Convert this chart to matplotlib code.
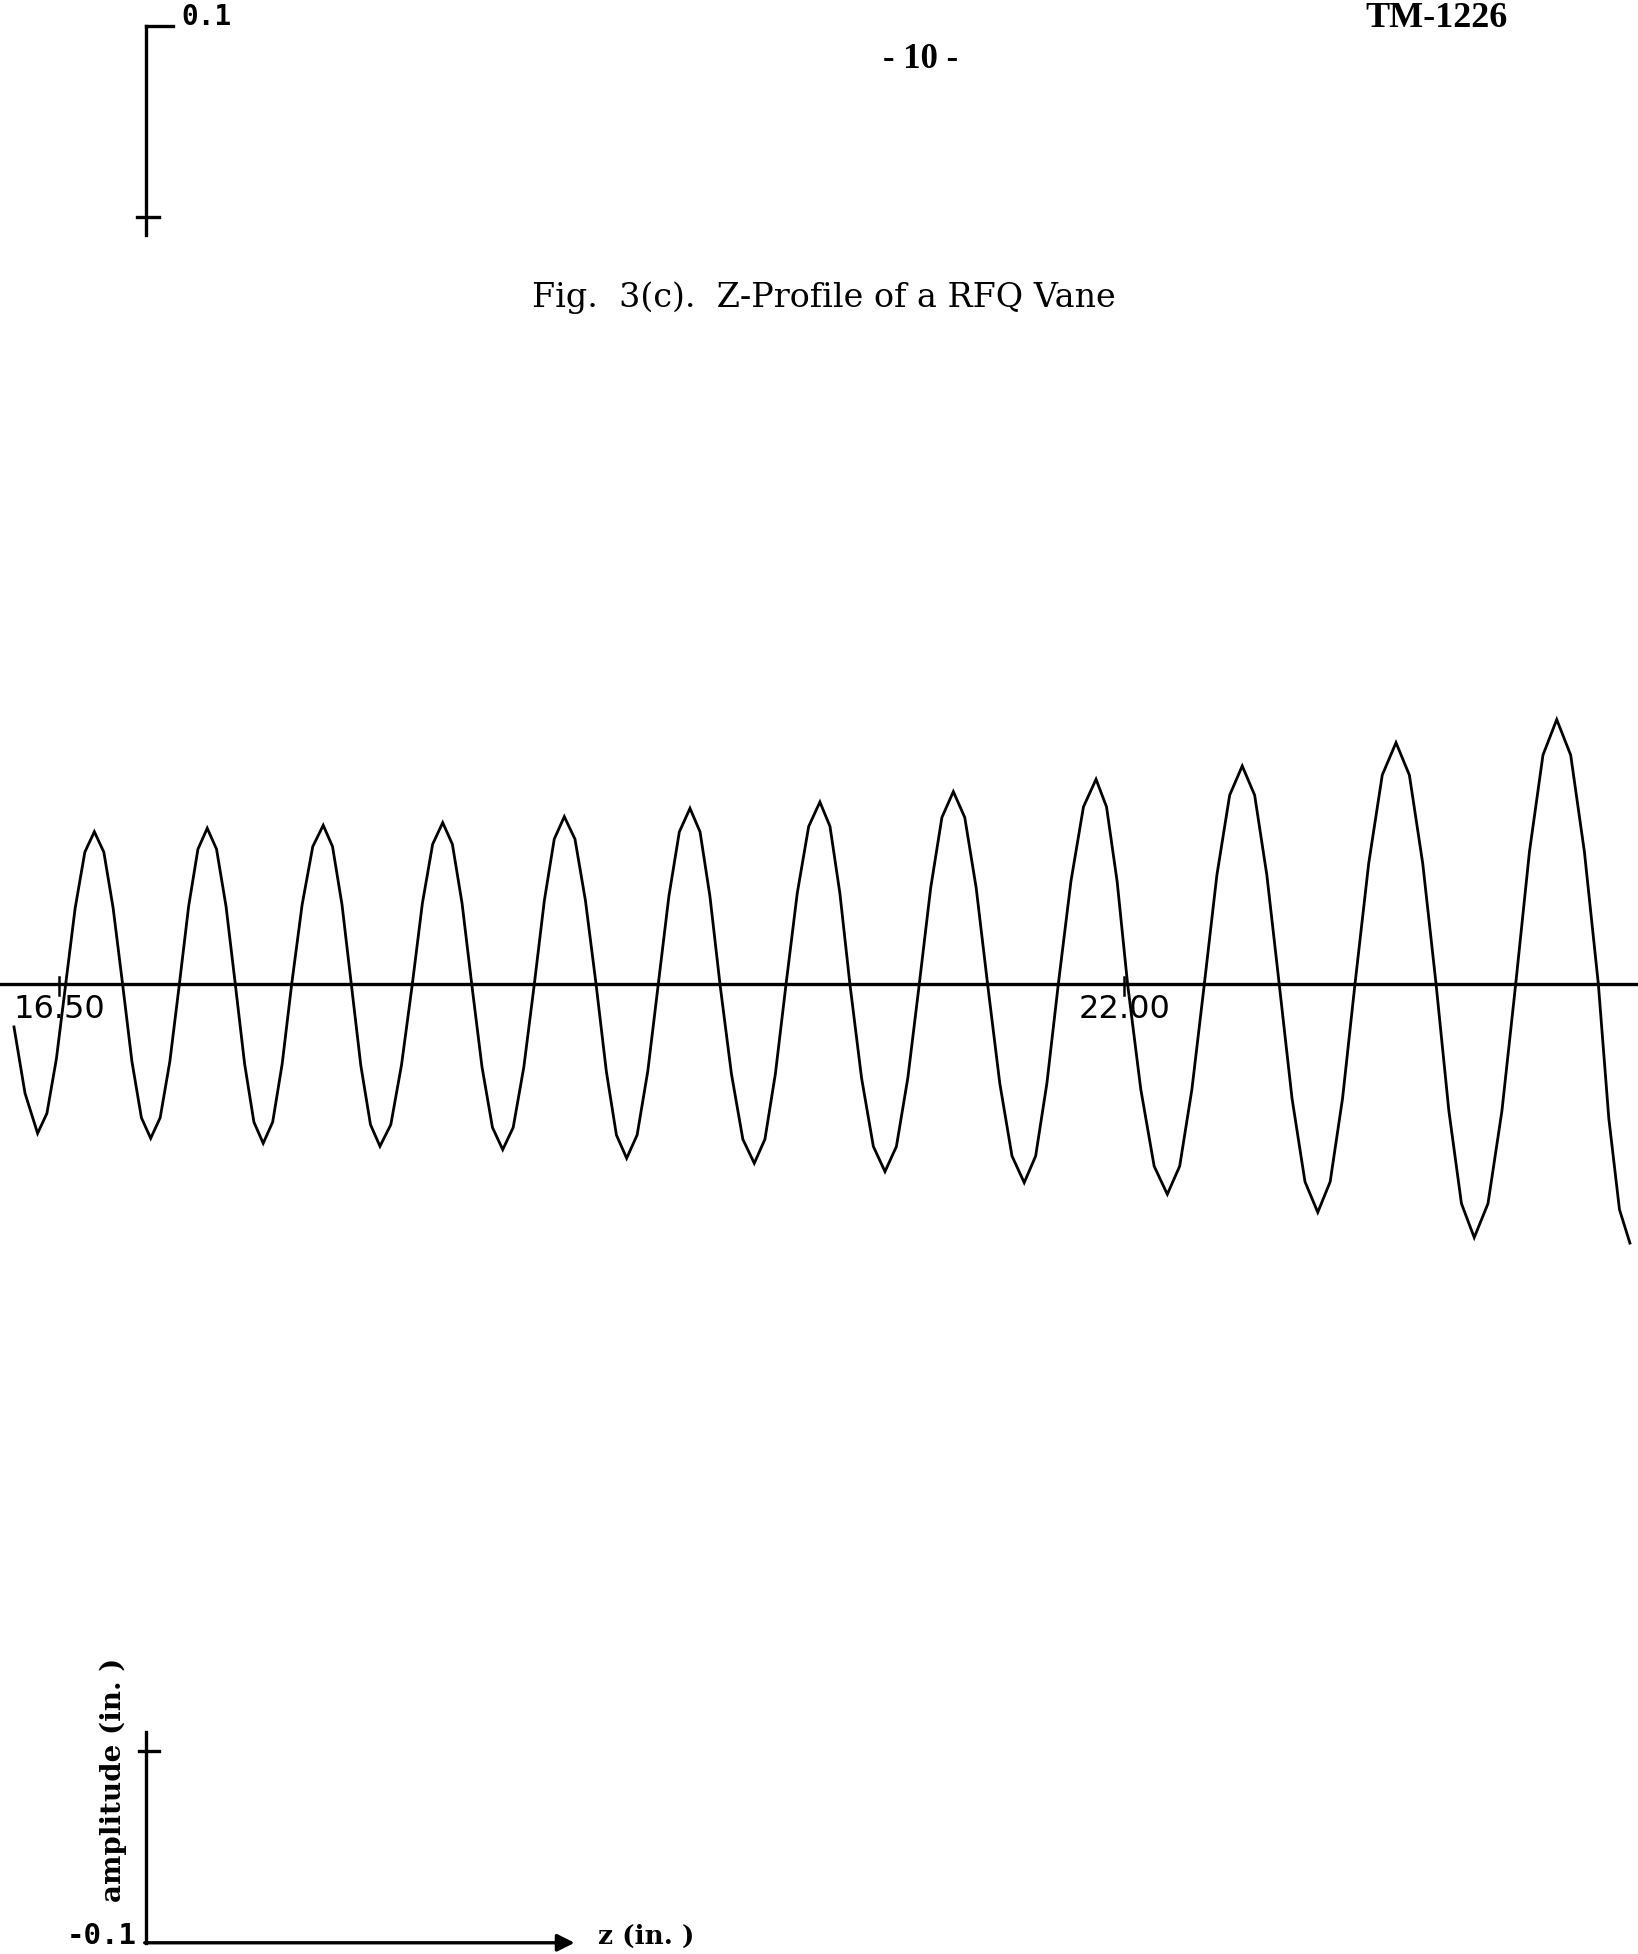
import matplotlib
matplotlib.use('Agg')
import matplotlib.pyplot as plt

# vane profile, z (in.) vs amplitude (in.)
z_in = [
    16.266, 16.323, 16.388,
    16.436, 16.485, 16.533, 16.582, 16.632, 16.681,
    16.730, 16.778, 16.827, 16.875, 16.924, 16.972,
    17.021, 17.071, 17.120, 17.168, 17.216, 17.264,
    17.312, 17.361, 17.409, 17.457, 17.505, 17.553,
    17.602, 17.651, 17.700, 17.754, 17.809, 17.863,
    17.911, 17.960, 18.008, 18.057, 18.107, 18.156,
    18.212, 18.267, 18.323, 18.375, 18.428, 18.480,
    18.530, 18.580, 18.630, 18.683, 18.737, 18.790,
    18.844, 18.899, 18.953, 19.005, 19.056, 19.108,
    19.163, 19.217, 19.272, 19.325, 19.377, 19.430,
    19.484, 19.539, 19.593, 19.648, 19.702, 19.757,
    19.809, 19.860, 19.912, 19.971, 20.030, 20.089,
    20.144, 20.198, 20.253, 20.311, 20.370, 20.428,
    20.480, 20.531, 20.583, 20.643, 20.704, 20.764,
    20.823, 20.882, 20.941, 21.000, 21.058, 21.117,
    21.176, 21.235, 21.294, 21.357, 21.420, 21.483,
    21.542, 21.600, 21.659, 21.724, 21.789, 21.854,
    21.908, 21.963, 22.017, 22.085, 22.154, 22.222,
    22.286, 22.349, 22.413, 22.478, 22.544, 22.609,
    22.673, 22.736, 22.800, 22.866, 22.933, 22.999,
    23.063, 23.127, 23.191, 23.262, 23.332, 23.403,
    23.472, 23.541, 23.610, 23.676, 23.741, 23.807,
    23.878, 23.950, 24.021, 24.092, 24.162, 24.233,
    24.305, 24.376, 24.448, 24.502, 24.557, 24.611,
]
amp_in = [
    -0.00445, -0.01137, -0.01555,
    -0.01347, -0.00778, 0.0, 0.00796, 0.01379, 0.01592,
    0.01379, 0.00796, 0.0, -0.00804, -0.01392, -0.01607,
    -0.01392, -0.00804, 0.0, 0.00814, 0.01410, 0.01628,
    0.01410, 0.00814, 0.0, -0.00830, -0.01437, -0.01659,
    -0.01437, -0.00830, 0.0, 0.00830, 0.01437, 0.01659,
    0.01437, 0.00830, 0.0, -0.00845, -0.01464, -0.01690,
    -0.01464, -0.00845, 0.0, 0.00844, 0.01461, 0.01687,
    0.01461, 0.00844, 0.0, -0.00863, -0.01494, -0.01725,
    -0.01494, -0.00863, 0.0, 0.00875, 0.01515, 0.01749,
    0.01515, 0.00875, 0.0, -0.00908, -0.01572, -0.01815,
    -0.01572, -0.00908, 0.0, 0.00918, 0.01590, 0.01836,
    0.01590, 0.00918, 0.0, -0.00934, -0.01617, -0.01867,
    -0.01617, -0.00934, 0.0, 0.00951, 0.01647, 0.01902,
    0.01647, 0.00951, 0.0, -0.00977, -0.01692, -0.01954,
    -0.01692, -0.00977, 0.0, 0.01005, 0.01741, 0.02010,
    0.01741, 0.01005, 0.0, -0.01035, -0.01792, -0.02069,
    -0.01792, -0.01035, 0.0, 0.01070, 0.01852, 0.02139,
    0.01852, 0.01070, 0.0, -0.01096, -0.01897, -0.02191,
    -0.01897, -0.01096, 0.0, 0.01139, 0.01973, 0.02278,
    0.01973, 0.01139, 0.0, -0.01190, -0.02060, -0.02379,
    -0.02060, -0.01190, 0.0, 0.01261, 0.02183, 0.02521,
    0.02183, 0.01261, 0.0, -0.01321, -0.02288, -0.02642,
    -0.02288, -0.01321, 0.0, 0.01381, 0.02392, 0.02762,
    0.02392, 0.01381, 0.0, -0.01400, -0.02350, -0.02700,
]

z_ticks = [16.5, 22.0]
z_tick_labels = ["16.50", "22.00"]
amp_scale = [0.1, 0.08]   # scale bar end and tick

fig = plt.figure(figsize=(16.38, 19.54), dpi=100)
ax = fig.add_axes([0, 0, 1, 1])
ax.set_xlim(16.1938, 24.6527)
ax.set_ylim(-0.10117, 0.10269)
ax.axis('off')

# profile and z axis
ax.plot(z_in, amp_in, color='black', lw=2.0, solid_joinstyle='miter')
ax.axhline(0.0, color='black', lw=2.4)
for zt, lab in zip(z_ticks, z_tick_labels):
    ax.plot([zt, zt], [0.0008, -0.0011], color='black', lw=1.8)
    ax.text(zt, -0.0010, lab, ha='center', va='top', fontsize=23,
            family='DejaVu Sans', color='black')

# amplitude scale marks, top
xb = 16.946
ax.plot([xb, xb], [0.0782, amp_scale[0]], color='black', lw=2.4)
ax.plot([xb, 17.086], [amp_scale[0], amp_scale[0]], color='black', lw=2.4)
ax.plot([16.900, 17.016], [amp_scale[1], amp_scale[1]], color='black', lw=2.4)
ax.text(17.130, 0.10095, "0.1", ha='left', va='center', fontsize=20,
        family='DejaVu Sans Mono', fontweight='bold')

# amplitude scale marks, bottom, with z arrow
ax.plot([xb, xb], [-0.0780, -amp_scale[0]], color='black', lw=2.4)
ax.plot([16.912, 17.016], [-amp_scale[1], -amp_scale[1]], color='black', lw=2.4)
ax.annotate('', xy=(19.161, -amp_scale[0]), xytext=(xb - 0.005, -amp_scale[0]),
            arrowprops=dict(arrowstyle='-|>', lw=2.4, color='black',
                            mutation_scale=26, shrinkA=0, shrinkB=0))
ax.text(16.902, -0.0993, "-0.1", ha='right', va='center', fontsize=21,
        family='DejaVu Sans Mono', fontweight='bold')
ax.text(19.283, -0.0993, "z (in. )", ha='left', va='center', fontsize=19,
        family='DejaVu Serif', fontweight='bold')
ax.text(16.778, -0.0830, "amplitude (in. )", ha='center', va='center',
        rotation=90, fontsize=20, family='DejaVu Serif', fontweight='bold')

# page header and caption
fig.text(0.8767, 0.9905, "TM-1226", ha='center', va='center', fontsize=26,
         family='Liberation Serif', fontweight='bold')
fig.text(0.5617, 0.9693, "- 10 -", ha='center', va='center', fontsize=25,
         family='Liberation Serif', fontweight='bold')
fig.text(0.503, 0.8475, "Fig.  3(c).  Z-Profile of a RFQ Vane", ha='center',
         va='center', fontsize=24, family='DejaVu Serif')

plt.savefig("out.png", dpi=100)
plt.clf()
